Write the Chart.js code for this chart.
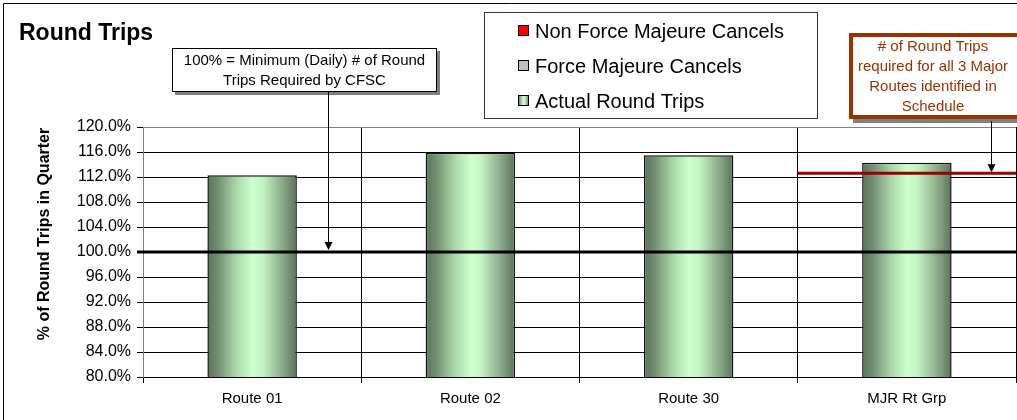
<!DOCTYPE html>
<html>
<head>
<meta charset="utf-8">
<script src="https://cdn.jsdelivr.net/npm/chart.js@4/dist/chart.umd.min.js"></script>
<style>
  html, body { margin: 0; padding: 0; background: #fff; }
  #wrap { width: 1017px; height: 420px; position: relative; }
</style>
</head>
<body>
<div id="wrap"><canvas id="tripsChart"></canvas></div>
<script>
// ----------------- Data -----------------
const categories = ['Route 01', 'Route 02', 'Route 30', 'MJR Rt Grp'];
const actualRoundTrips = [112.3, 115.9, 115.5, 114.3];
const forceMajeureCancels = [0, 0, 0, 0];
const nonForceMajeureCancels = [0, 0, 0, 0];
const minimumLevel = 100;          // 100% = daily minimum
const majorRoutesTarget = 112.6;   // required for all 3 major routes
const yMin = 80, yMax = 120, yStep = 4;

const chartTitle = 'Round Trips';
const yAxisTitle = '% of Round Trips in Quarter';
const minimumNote = ['100% = Minimum (Daily) # of Round', 'Trips Required by CFSC'];
const targetNote = ['# of Round Trips', 'required for all 3 Major', 'Routes identified in', 'Schedule'];

const FONT = "'Liberation Sans', Arial, sans-serif";
const BAR_PCT = 0.41;

// ----------------- Helpers -----------------
function greenGradient(c, x0, x1) {
  const g = c.createLinearGradient(x0, 0, x1, 0);
  g.addColorStop(0, '#5b735b');
  g.addColorStop(0.12, '#738f73');
  g.addColorStop(0.32, '#a9d6a9');
  g.addColorStop(0.5, '#ccffcc');
  g.addColorStop(0.62, '#c4f4c4');
  g.addColorStop(0.82, '#8fb08f');
  g.addColorStop(1, '#5b735b');
  return g;
}

function arrowDown(c, x, y0, y1) {
  c.save();
  c.strokeStyle = '#000';
  c.fillStyle = '#000';
  c.lineWidth = 1;
  c.beginPath();
  c.moveTo(x + 0.5, y0);
  c.lineTo(x + 0.5, y1 - 6);
  c.stroke();
  c.beginPath();
  c.moveTo(x - 3.5, y1 - 8);
  c.lineTo(x + 4.5, y1 - 8);
  c.lineTo(x + 0.5, y1);
  c.closePath();
  c.fill();
  c.restore();
}

// ----------------- Extras (reference lines, notes, legend) -----------------
const extrasPlugin = {
  id: 'extras',
  afterDatasetsDraw(chart) {
    const c = chart.ctx;
    const { left, right } = chart.chartArea;
    const xs = chart.scales.x, ys = chart.scales.y;

    // 100% line on top of bars
    const y100 = ys.getPixelForValue(minimumLevel);
    c.save();
    c.strokeStyle = '#000';
    c.lineWidth = 3;
    c.beginPath();
    c.moveTo(left - 6, y100);
    c.lineTo(right, y100);
    c.stroke();

    // target line across the MJR group
    const yT = ys.getPixelForValue(majorRoutesTarget);
    const half = xs.width / categories.length / 2;
    const xStart = xs.getPixelForValue(categories.length - 1) - half;
    c.strokeStyle = '#990000';
    c.lineWidth = 3;
    c.beginPath();
    c.moveTo(xStart, yT);
    c.lineTo(right, yT);
    c.stroke();
    c.restore();
  },
  afterDraw(chart) {
    const c = chart.ctx;
    const ys = chart.scales.y;
    c.save();

    // outer chart border
    c.strokeStyle = '#000';
    c.lineWidth = 1;
    c.beginPath();
    c.moveTo(3.5, 420);
    c.lineTo(3.5, 3.5);
    c.lineTo(1017, 3.5);
    c.stroke();

    // title
    c.fillStyle = '#000';
    c.font = 'bold 23px ' + FONT;
    c.textAlign = 'left';
    c.textBaseline = 'alphabetic';
    c.fillText(chartTitle, 19, 40);

    // y axis title
    c.save();
    c.translate(45, 234);
    c.rotate(-Math.PI / 2);
    c.font = 'bold 16px ' + FONT;
    c.textAlign = 'center';
    c.textBaseline = 'middle';
    c.fillText(yAxisTitle, 0, 0);
    c.restore();

    // minimum note box
    c.fillStyle = '#808080';
    c.fillRect(175, 51, 265, 44);
    c.fillStyle = '#fff';
    c.fillRect(172, 48, 265, 44);
    c.strokeStyle = '#000';
    c.strokeRect(172.5, 48.5, 264, 43);
    c.fillStyle = '#000';
    c.font = '15px ' + FONT;
    c.textAlign = 'center';
    c.textBaseline = 'middle';
    minimumNote.forEach((t, i) => c.fillText(t, 304.5, 61 + i * 20));
    arrowDown(c, 328, 92, ys.getPixelForValue(minimumLevel) - 2);

    // target note box
    c.fillStyle = '#808080';
    c.fillRect(853, 37, 170, 86);
    c.fillStyle = '#fff';
    c.fillRect(849, 33, 170, 86);
    c.strokeStyle = '#993300';
    c.lineWidth = 4;
    c.strokeRect(851, 35, 170, 82);
    c.fillStyle = '#993300';
    c.font = '15px ' + FONT;
    targetNote.forEach((t, i) => c.fillText(t, 933, 47 + i * 20));
    arrowDown(c, 991, 121, ys.getPixelForValue(majorRoutesTarget) - 1);

    // legend box
    c.lineWidth = 1;
    c.fillStyle = '#fff';
    c.fillRect(484, 12, 333, 106);
    c.strokeStyle = '#333';
    c.strokeRect(484.5, 12.5, 333, 106);
    const items = chart.data.datasets.slice().reverse();
    c.font = '20px ' + FONT;
    c.textAlign = 'left';
    items.forEach((ds, i) => {
      const cy = 31 + i * 35;
      const sx = 518, sy = cy - 6, s = 11;
      c.fillStyle = ds.legendFill === 'gradient' ? greenGradient(c, sx, sx + s) : ds.legendFill;
      c.fillRect(sx, sy, s, s);
      c.strokeStyle = '#000';
      c.strokeRect(sx + 0.5, sy + 0.5, s - 1, s - 1);
      c.fillStyle = '#000';
      c.fillText(ds.label, 535, cy + 1);
    });
    c.restore();
  }
};

// ----------------- Chart Setup -----------------
const ctx = document.getElementById('tripsChart').getContext('2d');
const tripsChart = new Chart(ctx, {
  type: 'bar',
  data: {
    labels: categories,
    datasets: [
      {
        label: 'Actual Round Trips',
        data: actualRoundTrips,
        legendFill: 'gradient',
        backgroundColor: (context) => {
          const chart = context.chart;
          const xs = chart.scales.x;
          if (!chart.chartArea || !xs) return '#ccffcc';
          const cx = xs.getPixelForValue(context.dataIndex);
          const w = xs.width / categories.length * BAR_PCT;
          return greenGradient(chart.ctx, cx - w / 2, cx + w / 2);
        },
        borderColor: '#111',
        borderWidth: 1.5,
        borderSkipped: false
      },
      {
        label: 'Force Majeure Cancels',
        data: forceMajeureCancels,
        legendFill: '#c0c0c0',
        backgroundColor: '#c0c0c0',
        borderWidth: 0
      },
      {
        label: 'Non Force Majeure Cancels',
        data: nonForceMajeureCancels,
        legendFill: '#ff0000',
        backgroundColor: '#ff0000',
        borderWidth: 0
      }
    ]
  },
  options: {
    responsive: true,
    maintainAspectRatio: false,
    animation: false,
    layout: { padding: { left: 0, right: 1, top: 127, bottom: 0 } },
    datasets: { bar: { categoryPercentage: 1, barPercentage: BAR_PCT } },
    plugins: {
      legend: { display: false },
      tooltip: { enabled: false }
    },
    scales: {
      x: {
        stacked: true,
        afterFit: (scale) => { scale.height = 43; },
        grid: {
          offset: true,
          color: (c) => (c.index === 0 || c.index >= categories.length) ? '#808080' : '#000',
          tickColor: '#000',
          lineWidth: 1,
          tickLength: 6
        },
        border: { color: '#000', width: 1 },
        ticks: {
          color: '#000',
          font: { family: FONT, size: 15 },
          padding: 7
        }
      },
      y: {
        stacked: true,
        min: yMin,
        max: yMax,
        afterFit: (scale) => { scale.width = 143; },
        grid: {
          color: (c) => (c.tick && c.tick.value === yMax) ? '#808080' : '#000',
          tickColor: '#000',
          lineWidth: 1,
          tickLength: 6
        },
        border: { color: '#808080', width: 1 },
        ticks: {
          stepSize: yStep,
          color: '#000',
          padding: 6,
          font: { family: FONT, size: 16 },
          callback: (v) => v.toFixed(1) + '%'
        }
      }
    }
  },
  plugins: [extrasPlugin]
});
</script>
</body>
</html>
